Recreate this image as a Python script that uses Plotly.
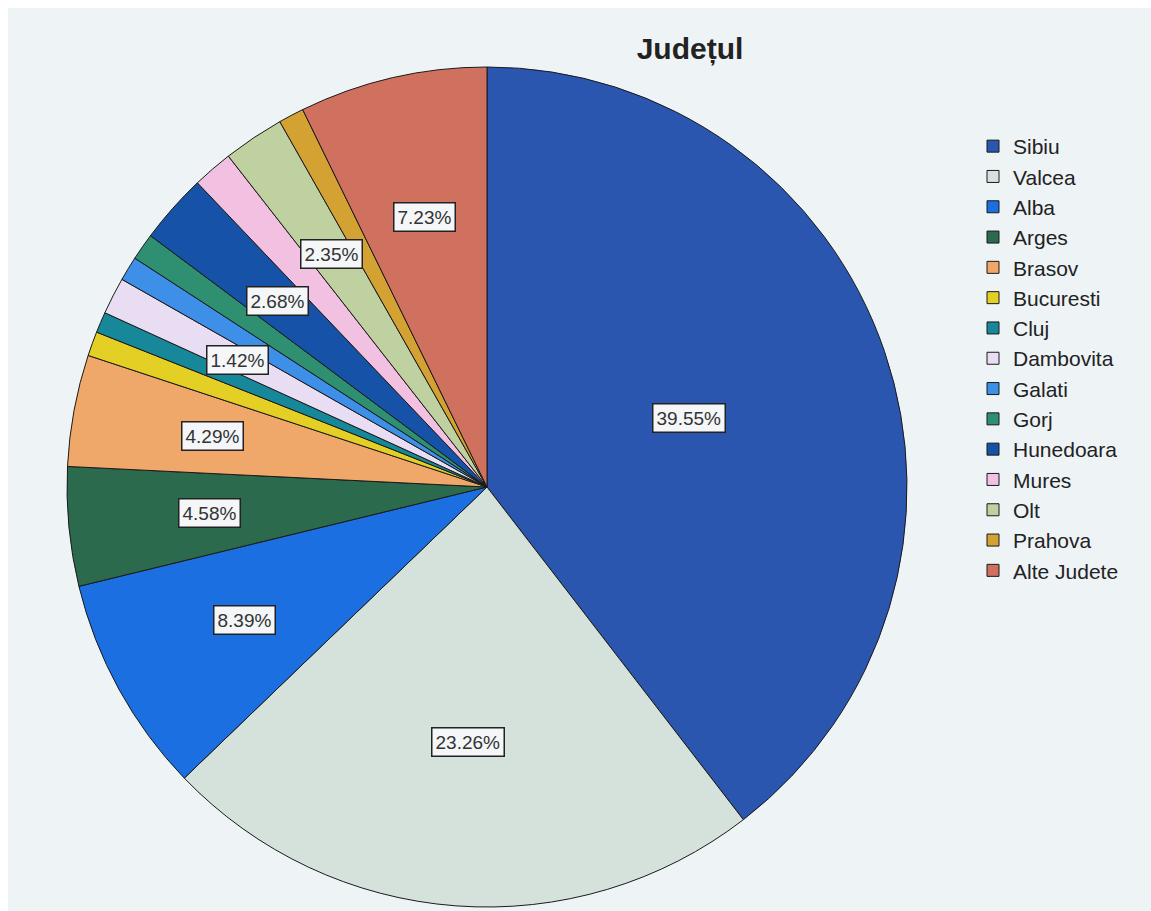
import math
import plotly.graph_objects as go

# ---- data ----
judete = ["Sibiu", "Valcea", "Alba", "Arges", "Brasov", "Bucuresti", "Cluj",
          "Dambovita", "Galati", "Gorj", "Hunedoara", "Mures", "Olt",
          "Prahova", "Alte Judete"]
procente = [39.55, 23.26, 8.39, 4.58, 4.29, 0.94, 0.80,
            1.42, 0.94, 1.04, 2.68, 1.55, 2.35, 0.98, 7.23]
etichete_vizibile = ["Sibiu", "Valcea", "Alba", "Arges", "Brasov",
                     "Dambovita", "Hunedoara", "Olt", "Alte Judete"]
culori = ["#2a56b0", "#d5e2dc", "#1b6fe0", "#2b6a4d", "#f0a86a", "#e4d024",
          "#17879a", "#e9ddf3", "#3d8fe8", "#2e9070", "#1652a8", "#f2c0e0",
          "#bfd1a1", "#d4a232", "#d0705e"]

# ---- layout geometry (figure pixel coordinates) ----
W, H = 1151, 911
CX, CY, R = 479, 479, 420  # pixel center and radius of the pie

fig = go.Figure()
fig.add_trace(go.Pie(
    labels=judete,
    values=procente,
    sort=False,
    direction="clockwise",
    rotation=0,
    textinfo="none",
    hoverinfo="label+percent",
    marker=dict(colors=culori, line=dict(color="#1a1a1a", width=1)),
    domain=dict(x=[(CX - R) / W, (CX + R) / W],
                y=[1 - (CY + R) / H, 1 - (CY - R) / H]),
))

# labels placed at slice centroids, computed from the data
total = sum(procente)
cum = 0.0
for name, v in zip(judete, procente):
    start = cum / total * 2 * math.pi
    cum += v
    end = cum / total * 2 * math.pi
    if name not in etichete_vizibile:
        continue
    mid = (start + end) / 2
    half = (end - start) / 2
    rf = (2.0 / 3.0) * math.sin(half) / half
    px = CX + rf * R * math.sin(mid)
    py = CY - rf * R * math.cos(mid)
    fig.add_annotation(
        x=px / W, y=1 - py / H, xref="paper", yref="paper",
        xanchor="center", yanchor="middle",
        text=f"{v:.2f}%", showarrow=False,
        font=dict(family="Arial, Liberation Sans, sans-serif", size=19, color="#333333"),
        bgcolor="#f4f6f8", bordercolor="#222222", borderwidth=1.5, borderpad=3,
    )

fig.update_layout(
    width=W, height=H,
    margin=dict(l=0, r=0, t=0, b=0),
    paper_bgcolor="#eef3f6",
    plot_bgcolor="#eef3f6",
    title=dict(text="<b>Județul</b>", x=682 / W, xanchor="center",
               y=1 - 40 / H, yanchor="middle",
               font=dict(family="Arial, Liberation Sans, sans-serif", size=30, color="#222222")),
    legend=dict(x=965 / W, y=1 - 118 / H, xanchor="left", yanchor="top",
                font=dict(family="Arial, Liberation Sans, sans-serif", size=21, color="#222222"),
                bgcolor="rgba(0,0,0,0)", itemwidth=30, traceorder="normal"),
    showlegend=True,
)

fig.write_html(
    "out.html",
    post_script="document.body.style.margin='8px 0 0 8px';"
                "document.body.style.overflow='hidden';"
                "document.documentElement.style.overflow='hidden';"
                "document.body.style.background='linear-gradient(#eef3f6,#eef3f6) 8px 8px / 100% 100% no-repeat, #ffffff';",
)
